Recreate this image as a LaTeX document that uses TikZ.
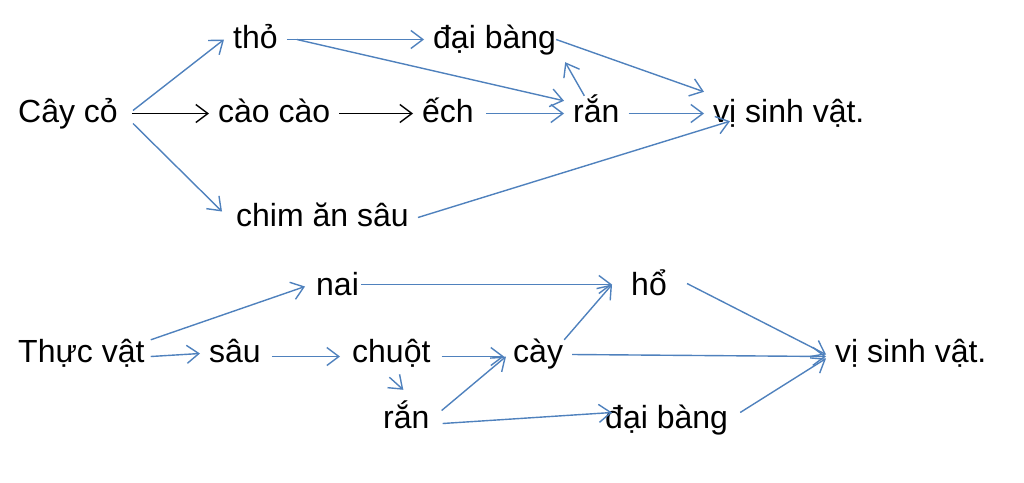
\documentclass[tikz,border=0pt]{standalone}
\usepackage{fontspec}
\setmainfont{Liberation Sans}
\usetikzlibrary{arrows.meta}
\definecolor{lineblue}{HTML}{4F81BD}

\begin{document}
\begin{tikzpicture}[x=1pt,y=-1pt,
    every node/.style={anchor=base west, inner xsep=9pt, inner ysep=2pt,
        text height=24pt, text depth=7pt, font=\fontsize{32}{38}\selectfont},
    bl/.style={draw=lineblue, line width=1.4pt, -{Straight Barb[length=12pt,width=18pt]}},
    bk/.style={draw=black, line width=1.4pt, -{Straight Barb[length=12pt,width=18pt]}}]
            \useasboundingbox (0,0) rectangle (1024,482);
            % first chain
            \node (cay) at (9,122) {Cây cỏ};
            \node (tho) at (224,48) {thỏ};
            \node (dbA) at (424,48) {đại bàng};
            \node (cao) at (209,122) {cào cào};
            \node (ech) at (413,122) {ếch};
            \node (ranA) at (564,122) {rắn};
            \node (viA) at (704,122) {vị sinh vật.};
            \node (chim) at (227,226) {chim ăn sâu};
            \draw[bl] ([xshift=6pt,yshift=3pt]cay.east)--(tho.west);
            \draw[bk] ([xshift=5pt]cay.east)--(cao.west);
            \draw[bl] ([xshift=6pt,yshift=-10pt]cay.east)--([xshift=-5pt,yshift=6pt]chim.west);
            \draw[bl] (tho.east)--(dbA.west);
            \draw[bl] ([xshift=10pt]tho.east)--([yshift=-5pt]ranA.north west);
            \draw[bk] (cao.east)--(ech.west);
            \draw[bl] ([xshift=3pt]ech.east)--(ranA.west);
            \draw[bl] ([xshift=-12pt]ranA.north)--([yshift=-5pt]dbA.south east);
            \draw[bl] ([xshift=-9pt]dbA.east)--([yshift=4pt]viA.north west);
            \draw[bl] (ranA.east)--(viA.west);
            \draw[bl] (chim.east)--([xshift=26pt,yshift=10pt]viA.south west);
            % second chain
            \node (thuc) at (9,362) {Thực vật};
            \node (nai) at (307,295) {nai};
            \node (ho) at (622,295) {hổ};
            \node (sau) at (200,362) {sâu};
            \node (chuot) at (343,362) {chuột};
            \node (cayB) at (504,362) {cày};
            \node (viB) at (826,362) {vị sinh vật.};
            \node (ranB) at (374,428) {rắn};
            \node (dbB) at (596,428) {đại bàng};
            \draw[bl] ([xshift=-3pt,yshift=-4pt]thuc.north east)--([xshift=-2pt]nai.west);
            \draw[bl] ([xshift=-3pt,yshift=-3pt]thuc.east)--(sau.west);
            \draw[bl] ([xshift=2pt,yshift=-3pt]sau.east)--([xshift=-3pt,yshift=-3pt]chuot.west);
            \draw[bl] ([xshift=-7pt,yshift=2pt]nai.east)--([xshift=-10pt,yshift=2pt]ho.west);
            \draw[bl] ([xshift=2pt,yshift=-3pt]chuot.east)--([yshift=-3pt]cayB.west);
            \draw[bl] ([xshift=-2pt,yshift=-6pt]chuot.south)--([xshift=-3pt,yshift=12pt]ranB.north);
            \draw[bl] ([xshift=3pt,yshift=9pt]ranB.east)--([xshift=2pt,yshift=-3pt]cayB.west);
            \draw[bl] ([xshift=4pt,yshift=-4pt]ranB.east)--([xshift=16pt,yshift=7pt]dbB.west);
            \draw[bl] ([xshift=-8pt,yshift=-4pt]cayB.north east)--([xshift=-10pt,yshift=2pt]ho.west);
            \draw[bl] ([yshift=-1pt]cayB.east)--([yshift=-3pt]viB.west);
            \draw[bl] ([xshift=11pt,yshift=3pt]ho.east)--([yshift=-1pt]viB.west);
            \draw[bl] ([xshift=3pt,yshift=7pt]dbB.east)--([yshift=-5pt]viB.west);
\end{tikzpicture}
\end{document}
